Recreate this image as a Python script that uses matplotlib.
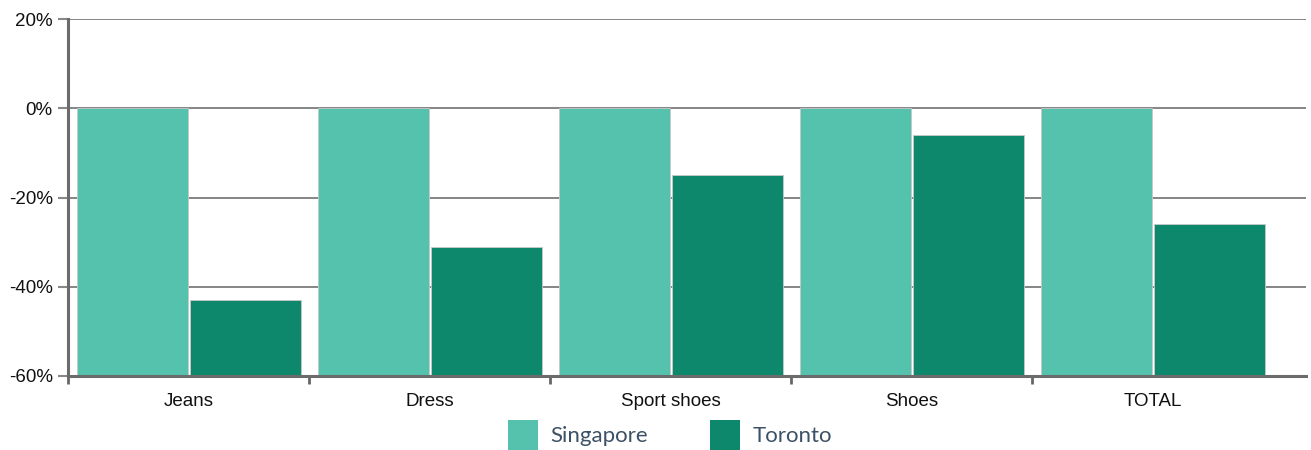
import numpy as np
import matplotlib.pyplot as plt
from matplotlib.patches import Patch

# data
categories = ["Jeans", "Dress", "Sport shoes", "Shoes", "TOTAL"]
singapore = [0, 0, 0, 0, 0]
toronto = [-43, -31, -15, -6, -26]
yticks = [20, 0, -20, -40, -60]

c_sg = "#54c2ad"
c_to = "#0e886c"
base = -60

fig = plt.figure(figsize=(13.11, 4.5), dpi=100)
ax = fig.add_axes([68/1311, 1-376/450, (1306-68)/1311, (376-19)/450])

x = np.arange(len(categories))
w = 0.461
ax.bar(x + 0.268, np.array(singapore) - base, bottom=base, width=w,
       color=c_sg, edgecolor="#c8c8c8", linewidth=0.6, zorder=3)
ax.bar(x + 0.736, np.array(toronto) - base, bottom=base, width=w,
       color=c_to, edgecolor="#c8c8c8", linewidth=0.6, zorder=3)

ax.set_xlim(0, 1238/241)
ax.set_ylim(-60, 20)

ax.set_yticks(yticks)
ax.set_yticklabels([f"{v}%" for v in yticks], fontfamily="Liberation Sans",
                   fontsize=13.5, color="#111111")
ax.grid(axis="y", color="#858585", linewidth=1.4, zorder=0)

ax.set_xticks(x + 0.5)
ax.set_xticklabels(categories, fontfamily="Liberation Sans", fontsize=13.5,
                   color="#111111")
ax.tick_params(axis="x", length=0, pad=12)
ax.set_xticks(x, minor=True)
ax.tick_params(axis="x", which="minor", length=6, width=2, color="#666666")
ax.tick_params(axis="y", length=7, width=1.5, color="#888888", pad=4)

for s in ["top", "right"]:
    ax.spines[s].set_visible(False)
for s in ["left", "bottom"]:
    ax.spines[s].set_color("#6b6b6b")
    ax.spines[s].set_linewidth(2.2)
    ax.spines[s].set_zorder(4)

handles = [Patch(facecolor=c_sg, edgecolor="none", label="Singapore"),
           Patch(facecolor=c_to, edgecolor="none", label="Toronto")]
fig.legend(handles=handles, loc="center", bbox_to_anchor=(0.511, 0.033), ncol=2,
           frameon=False, prop={"family": "Lato", "size": 16},
           labelcolor="#3d5166", handlelength=1.35, handleheight=1.7,
           handletextpad=0.55, columnspacing=2.8)

fig.savefig("out.png", dpi=100)
